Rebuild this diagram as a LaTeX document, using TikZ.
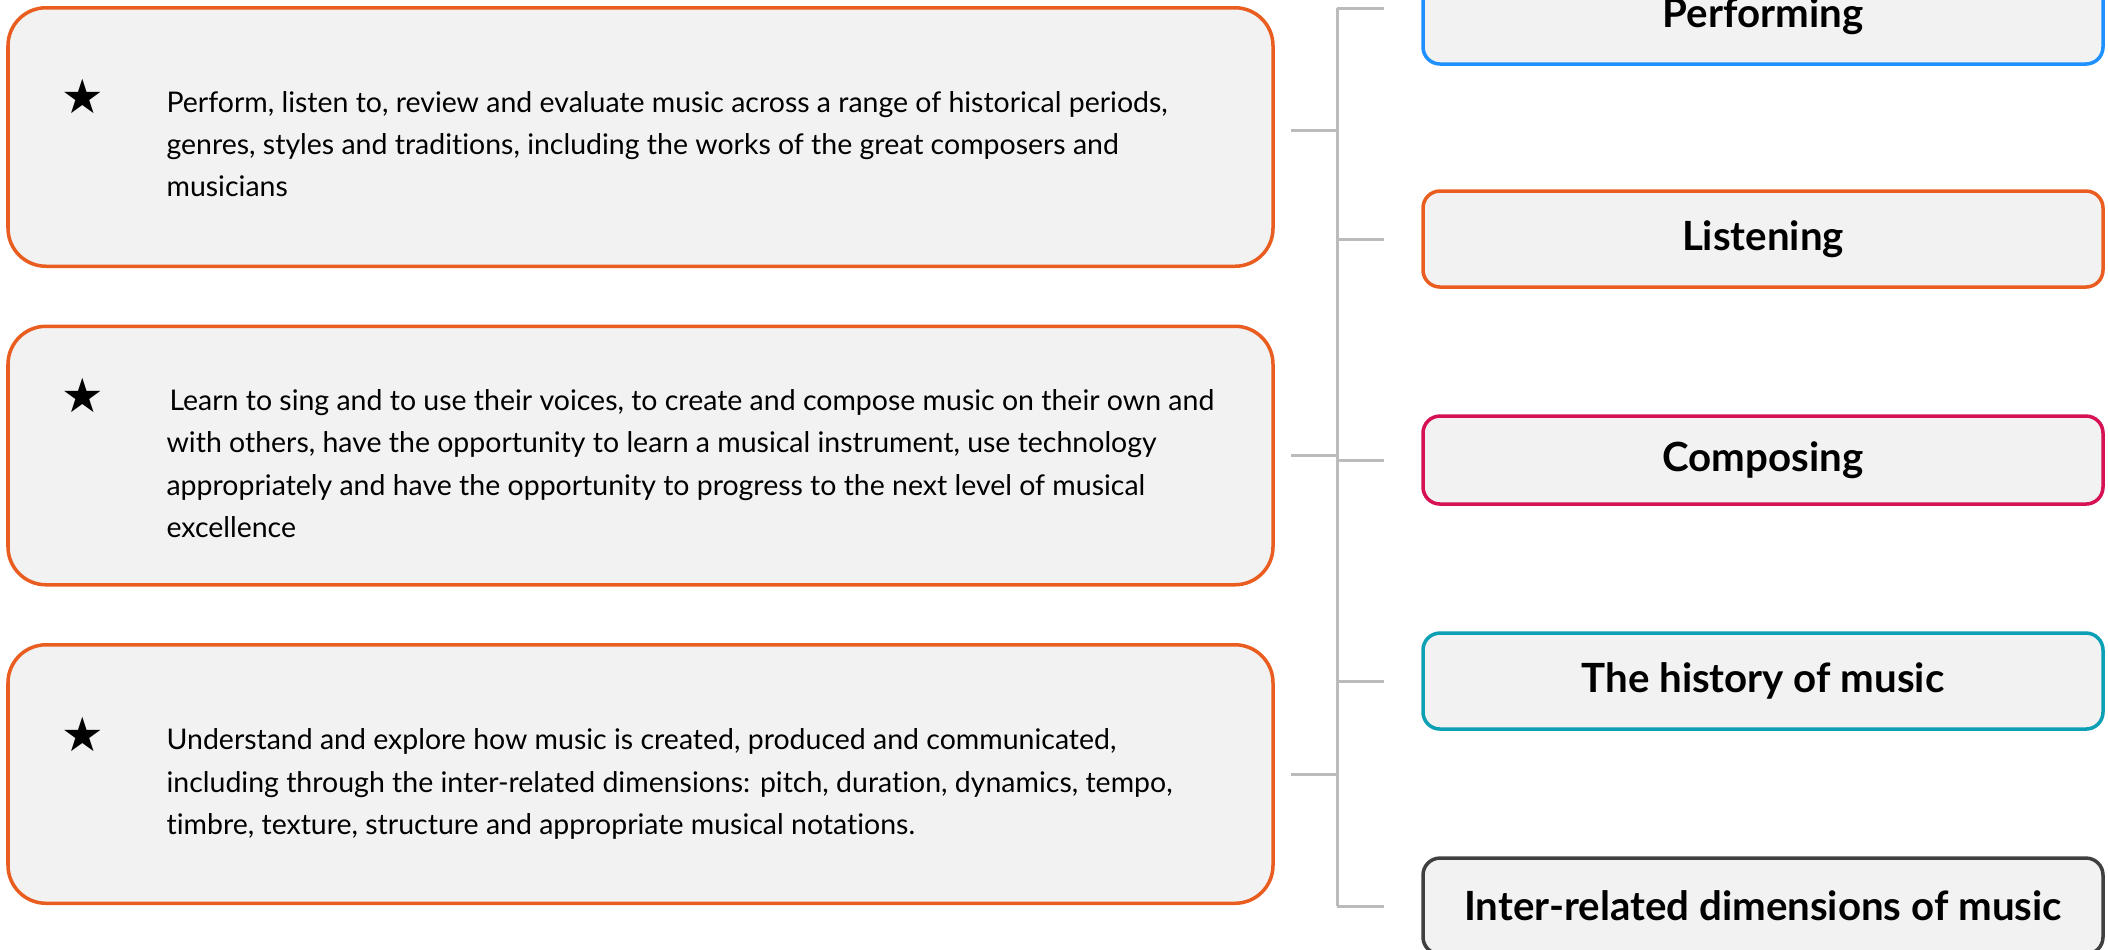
\documentclass[tikz,border=0pt]{standalone}
\usepackage{fontspec}
\setmainfont{Lato}[Ligatures=NoCommon]
\newfontfamily\symfont{DejaVu Sans}
\usepackage{tikz}
\usetikzlibrary{positioning}
\definecolor{aimorange}{RGB}{233,94,32}
\definecolor{perfblue}{RGB}{30,144,255}
\definecolor{compred}{RGB}{214,17,84}
\definecolor{histteal}{RGB}{12,160,180}
\definecolor{dimgray}{RGB}{64,64,64}
\definecolor{boxfill}{RGB}{242,242,242}
\definecolor{linegray}{RGB}{187,187,187}
\tikzstyle{goal} = [rectangle, rounded corners=0.76cm, minimum width=25.3cm, minimum height=5.17cm, fill=boxfill, draw=aimorange, line width=2pt]
\tikzstyle{aim} = [align=left, inner sep=0pt, anchor=west, font=\fontsize{16.2}{24}\selectfont]
\tikzstyle{marker} = [inner sep=0pt, font=\symfont\fontsize{27}{27}\selectfont]
\tikzstyle{strand} = [rectangle, rounded corners=0.34cm, minimum width=13.6cm, minimum height=1.92cm, fill=boxfill, line width=2pt, text centered, font=\fontsize{22.9}{26}\selectfont\bfseries]
\tikzstyle{bracket} = [linegray, line width=1.7pt]

\begin{document}
\begin{tikzpicture}[node distance=1.13cm] % Default node spacing
\useasboundingbox (0,0) rectangle (42.16,-18.98);

% Place the aims on the left
\node(goal1)   [goal]                   at (12.81,-2.74) {};
\node(goal2)   [goal, below=of goal1]                  {};
\node(goal3)   [goal, below=of goal2]                  {};
\node(aim1)    [aim] at ([xshift=3.2cm,yshift=-0.14cm]goal1.west) {Perform, listen to, review and evaluate music across a range of historical periods,\\genres, styles and traditions, including the works of the great composers and\\musicians};
\node(aim2)    [aim] at ([xshift=3.2cm,yshift=-0.16cm]goal2.west) {\hspace{0.06cm}Learn to sing and to use their voices, to create and compose music on their own and\\with others, have the opportunity to learn a musical instrument, use technology\\appropriately and have the opportunity to progress to the next level of musical\\excellence};
\node(aim3)    [aim] at ([xshift=3.2cm,yshift=-0.2cm]goal3.west) {Understand and explore how music is created, produced and communicated,\\including through the inter-related dimensions: pitch, duration, dynamics, tempo,\\timbre, texture, structure and appropriate musical notations.};
\node(star1)   [marker] at ([xshift=-1.66cm,yshift=-0.12cm]aim1.north west) {★};
\node(star2)   [marker] at ([xshift=-1.66cm,yshift=-0.12cm]aim2.north west) {★};
\node(star3)   [marker] at ([xshift=-1.66cm,yshift=-0.12cm]aim3.north west) {★};

% Place the strands on the right
\node(perform) [strand, draw=perfblue]                         at (35.26,-0.32) {Performing};
\node(listen)  [strand, draw=aimorange, below=2.47cm of perform]                {Listening};
\node(compose) [strand, draw=compred,   below=2.51cm of listen, minimum height=1.76cm] {Composing};
\node(history) [strand, draw=histteal,  below=2.51cm of compose]               {The history of music};
\node(inter)   [strand, draw=dimgray,   below=2.51cm of history]               {Inter-related dimensions of music};

% Connect the aims with the strands
\coordinate(spine) at (26.74,0);
\coordinate(top)   at ([yshift=0.16cm]perform.west -| spine);
\draw [bracket] (top) -- (inter.west -| spine);
\draw [bracket] (top) -- ([xshift=-0.74cm]top -| perform.west);
\draw [bracket] ([xshift=0.32cm,yshift=0.14cm]goal1.east) -- ([yshift=0.14cm]goal1.east -| spine);
\foreach \g in {goal2,goal3}
  \draw [bracket] ([xshift=0.32cm]\g.east) -- (\g.east -| spine);
\foreach \s in {listen,compose,history,inter}
  \draw [bracket] (\s.west -| spine) -- ([xshift=-0.74cm]\s.west);

\end{tikzpicture}
\end{document}
